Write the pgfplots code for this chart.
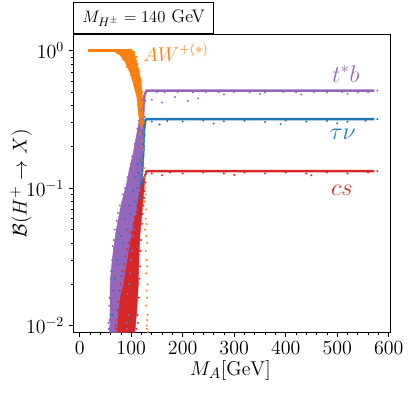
\documentclass[border=0pt]{standalone}
\usepackage{pgfplots}
\pgfplotsset{compat=1.18}

\definecolor{cpurple}{HTML}{9467BD}
\definecolor{cblue}{HTML}{1F77B4}
\definecolor{cred}{HTML}{D62728}
\definecolor{corange}{HTML}{FF7F0E}

\begin{document}
\begin{tikzpicture}
\begin{axis}[
    scale only axis,
    width=228.2pt,
    height=214.9pt,
    xmin=-12, xmax=603.5,
    ymin=0.00892, ymax=1.32,
    ymode=log,
    xtick={0,100,...,600},
    minor x tick num=4,
    ytick={0.01,0.1,1},
    tick align=outside,
    xtick pos=lower,
    ytick pos=left,
    major tick length=3.2pt,
    minor tick length=1.8pt,
    tick style={black, line width=0.5pt},
    axis line style={line width=0.6pt},
    ticklabel style={font=\fontsize{14}{16}\selectfont},
    every axis x label/.style={at={(axis description cs:0.495,-0.126)},anchor=center},
    every axis y label/.style={at={(axis description cs:-0.165,0.5)},anchor=center,rotate=90},
    label style={font=\fontsize{15}{17}\selectfont},
    xlabel={$M_A[\mathrm{GeV}]$},
    ylabel={$\mathcal{B}(H^+\to X)$},
]

% tau nu band
\addplot[fill=cblue, draw=cblue, line width=0.3pt] coordinates {
  (60,0.0089) (63,0.02) (70,0.035) (80,0.055) (92,0.08) (104,0.11) (112,0.17)
  (118,0.24) (123,0.29) (126,0.31) (129,0.318)
  (129,0.30) (127,0.27) (126,0.22) (125,0.17) (123,0.13) (120,0.10) (116,0.075)
  (110,0.055) (104,0.04) (98,0.025) (95,0.015) (93,0.0089)
};
\addplot[only marks, mark=*, mark size=0.5pt, cblue] coordinates {
  (104,0.095) (108,0.12) (113,0.15) (117,0.2) (121,0.25) (124,0.28) (60,0.012)
  (58,0.016) (62,0.025) (66,0.018) (72,0.03) (80,0.045) (88,0.06) (96,0.075)
  (125,0.19) (126,0.24) (122,0.11) (118,0.085) (57,0.0095) (97,0.011) (100,0.02)
  (64,0.012) (68,0.022) (75,0.028) (84,0.04) (92,0.05) (99,0.065) (106,0.08)
  (111,0.1) (115,0.13) (119,0.16) (123,0.21) (125,0.265) (127,0.29)
  (140,0.305) (170,0.308) (200,0.305) (240,0.31) (280,0.306) (320,0.309) (360,0.303)
  (400,0.31) (440,0.305) (480,0.308) (520,0.304) (555,0.309) (578,0.318)
  (155,0.29) (260,0.295) (390,0.292) (500,0.296)
};

% t* b band
\addplot[fill=cpurple, draw=cpurple, line width=0.3pt] coordinates {
  (58,0.0089) (59,0.012) (59,0.0197) (62,0.027) (65,0.0345) (70,0.047) (75,0.06)
  (82,0.08) (90,0.103) (97,0.14) (104,0.18) (110,0.24) (117,0.33) (121,0.41)
  (124,0.47) (127,0.505) (131,0.52)
  (131,0.50) (128,0.48) (126,0.40) (124.5,0.30) (123.5,0.224) (120,0.15) (117,0.106)
  (112,0.08) (107,0.06) (100,0.04) (94,0.026) (90,0.015) (88,0.0089)
};
\addplot[only marks, mark=*, mark size=0.5pt, cpurple] coordinates {
  (57,0.0095) (58,0.011) (57.5,0.014) (59,0.016) (60,0.022) (61,0.025) (63,0.03)
  (64,0.038) (66,0.042) (68,0.05) (72,0.058) (74,0.066) (78,0.075) (84,0.09)
  (88,0.1) (93,0.12) (99,0.15) (102,0.17) (107,0.21) (112,0.27) (115,0.31)
  (119,0.37) (122,0.44) (125,0.47) (92,0.0095) (95,0.012) (96,0.02) (100,0.03)
  (103,0.045) (109,0.065) (113,0.085) (119,0.12) (122,0.18) (125,0.26)
  (56,0.0105) (60,0.018) (62,0.021) (67,0.036) (71,0.043) (76,0.054) (81,0.068)
  (86,0.085) (91,0.095) (96,0.115) (101,0.135) (106,0.16) (110,0.19) (114,0.23)
  (117,0.28) (120,0.32) (123,0.38) (91,0.0105) (93,0.017) (98,0.024) (102,0.035)
  (106,0.05) (111,0.07) (116,0.095) (121,0.14) (124,0.2) (126,0.33) (127,0.43)
  (150,0.50) (165,0.497) (190,0.50) (220,0.498) (245,0.50) (270,0.497) (300,0.50)
  (330,0.498) (360,0.497) (395,0.50) (420,0.498) (455,0.50) (480,0.497)
  (510,0.50) (540,0.498) (560,0.50) (578,0.512)
  (140,0.44) (160,0.42) (185,0.46) (210,0.43) (230,0.45) (280,0.48) (350,0.485)
  (430,0.48) (520,0.485)
};

% c s band
\addplot[fill=cred, draw=cred, line width=0.3pt] coordinates {
  (73,0.0089) (76,0.013) (80,0.0165) (85,0.0197) (93,0.03) (101,0.0456) (110,0.068)
  (117,0.094) (121,0.11) (124,0.12) (127,0.128) (130,0.133)
  (130,0.128) (127,0.12) (125,0.10) (123.5,0.085) (120,0.06) (117,0.0456)
  (115,0.03) (113.8,0.0197) (111,0.013) (107,0.0089)
};
\addplot[only marks, mark=*, mark size=0.5pt, cred] coordinates {
  (71,0.0095) (72,0.011) (75,0.015) (79,0.02) (83,0.025) (89,0.032) (96,0.04)
  (104,0.055) (112,0.075) (119,0.1) (110,0.0095) (112,0.012) (116,0.022)
  (118,0.035) (121,0.055) (124,0.075) (126,0.095) (128,0.11)
  (69,0.01) (74,0.013) (77,0.018) (81,0.023) (86,0.028) (92,0.036) (99,0.048)
  (107,0.062) (115,0.085) (113,0.0105) (115,0.016) (117,0.027) (119,0.042)
  (122,0.065) (125,0.085)
  (140,0.128) (175,0.13) (200,0.128) (240,0.13) (280,0.128) (320,0.13)
  (360,0.128) (400,0.13) (440,0.128) (480,0.13) (520,0.128) (560,0.13) (578,0.133)
  (160,0.124) (300,0.125) (450,0.124)
};

% plateaus
\addplot[cblue, line width=1.8pt] coordinates {(127,0.31) (130,0.318) (572,0.318)};
\addplot[cpurple, line width=1.8pt] coordinates {(128,0.505) (131,0.512) (572,0.512)};
\addplot[cred, line width=1.8pt] coordinates {(128,0.13) (131,0.133) (572,0.133)};

% A W band
\addplot[fill=corange, draw=corange, line width=0.3pt] coordinates {
  (60,1.0) (104,1.0) (108,0.9) (112,0.78) (117,0.66) (120,0.56) (122,0.45)
  (122.5,0.38) (123.5,0.28) (120,0.27) (117,0.3) (114,0.35) (111,0.46)
  (104,0.58) (98,0.69) (88,0.83) (78,0.93) (68,0.98) (60,0.995)
};
\addplot[corange, line width=1.8pt] coordinates {(16,1.0) (102,1.0)};
\addplot[only marks, mark=*, mark size=0.5pt, corange] coordinates {
  (118,0.25) (121,0.22) (119,0.2) (124,0.19) (122,0.16) (125,0.14) (120,0.13)
  (126,0.12) (127,0.1) (128,0.09) (126,0.08) (129,0.07) (128,0.06) (130,0.055)
  (127,0.05) (129,0.045) (131,0.04) (128,0.035) (130,0.03) (131,0.027) (129,0.024)
  (132,0.02) (130,0.018) (131,0.016) (129.5,0.014) (132,0.012) (131,0.011)
  (130,0.01) (131,0.0095) (132,0.009)
  (110,0.9) (112,0.8) (116,0.7) (118,0.62) (121,0.5) (123,0.33) (116,0.4)
  (107,0.55) (100,0.66) (92,0.76) (85,0.86) (75,0.95) (106,0.97) (109,0.85)
  (114,0.74) (119,0.6) (124,0.42) (125,0.3)
};

% labels
\node[corange, anchor=base west, inner sep=0pt, font=\fontsize{14}{16}\selectfont] at (axis cs:123,0.84) {$AW^{+(*)}$};
\node[cpurple, font=\fontsize{17}{20}\selectfont] at (axis cs:517,0.677) {$t^*b$};
\node[cblue, font=\fontsize{17}{20}\selectfont] at (axis cs:511,0.248) {$\tau\nu$};
\node[cred, font=\fontsize{17}{20}\selectfont] at (axis cs:509,0.097) {$cs$};
\end{axis}

\node[draw, line width=0.6pt, anchor=south west, minimum width=100.4pt,
      minimum height=22.3pt, inner sep=0pt, font=\fontsize{13}{15}\selectfont]
  at (current axis.north west) {$M_{H^\pm} = 140$ GeV};

\pgfresetboundingbox
\path[use as bounding box] ([shift={(-52.9pt,-42.8pt)}]current axis.south west)
  rectangle ([shift={(12.6pt,24.5pt)}]current axis.north east);
\end{tikzpicture}
\end{document}
